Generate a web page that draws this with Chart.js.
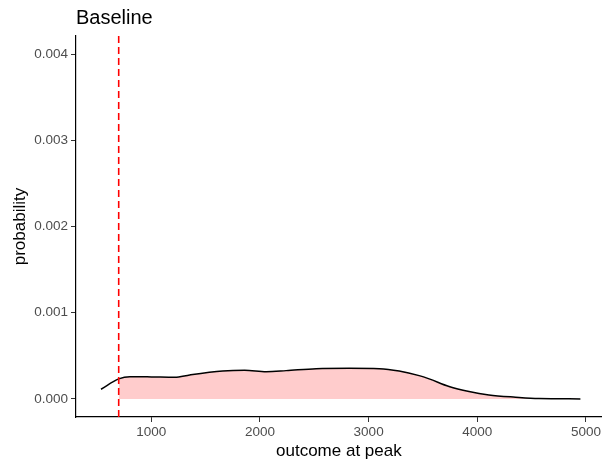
<!DOCTYPE html>
<html>
<head>
<meta charset="utf-8">
<script src="https://cdn.jsdelivr.net/npm/chart.js@4/dist/chart.umd.min.js"></script>
<style>
  html, body { margin: 0; padding: 0; background: #fff; }
  #wrap { width: 603px; height: 465px; }
</style>
</head>
<body>
<div id="wrap"><canvas id="density"></canvas></div>
<script>
// estimated density of the outcome at peak
var outcome = [537, 700, 803, 1002, 1216, 1354, 1657, 1859, 2058, 2241, 2517, 2822, 3098, 3281, 3465, 3557, 3740, 3924, 4107, 4352, 4566, 4949];
var density = [0.000112, 0.000232, 0.000258, 0.000255, 0.00025, 0.000278, 0.000324, 0.000333, 0.000316, 0.000328, 0.000351, 0.000355, 0.000351, 0.000324, 0.00027, 0.000232, 0.000143, 0.000085, 0.000046, 0.00002, 0.000004, 0];
var baseline = 700;
var xTicks = [1000, 2000, 3000, 4000, 5000];
var yTicks = [0, 0.001, 0.002, 0.003, 0.004];
var xRange = [307, 5145];
var yRange = [-0.00021, 0.00421];

var curve = outcome.map(function (x, i) { return { x: x, y: density[i] }; });
var shaded = curve.filter(function (p) { return p.x >= baseline; });

var font = 'Liberation Sans, Arial, sans-serif';
var tickFont = { family: font, size: 13.5 };

new Chart(document.getElementById('density').getContext('2d'), {
  type: 'line',
  data: {
    datasets: [{
      data: shaded,
      borderWidth: 0,
      backgroundColor: '#FFCCCC',
      fill: 'origin',
      pointRadius: 0,
      cubicInterpolationMode: 'monotone',
      order: 3
    }, {
      data: curve,
      borderColor: '#000000',
      borderWidth: 1.5,
      fill: false,
      pointRadius: 0,
      cubicInterpolationMode: 'monotone',
      order: 2
    }, {
      data: [{ x: baseline, y: yRange[0] }, { x: baseline, y: yRange[1] }],
      borderColor: '#FF0000',
      borderWidth: 1.6,
      borderDash: [7, 4],
      fill: false,
      pointRadius: 0,
      order: 1
    }]
  },
  options: {
    responsive: true,
    maintainAspectRatio: false,
    animation: false,
    layout: { padding: 0 },
    plugins: {
      legend: { display: false },
      tooltip: { enabled: false },
      title: {
        display: true,
        text: 'Baseline',
        align: 'start',
        fullSize: false,
        color: '#000',
        font: { family: font, size: 20, weight: 'normal' },
        padding: { top: 6, bottom: 6 }
      }
    },
    scales: {
      x: {
        type: 'linear',
        min: xRange[0],
        max: xRange[1],
        afterBuildTicks: function (s) { s.ticks = xTicks.map(function (v) { return { value: v }; }); },
        afterFit: function (s) { s.height = 48; },
        ticks: { color: '#4D4D4D', font: tickFont, padding: 2, maxRotation: 0, callback: function (v) { return String(v); } },
        grid: { display: true, drawOnChartArea: false, drawTicks: true, tickLength: 5, color: '#333333', lineWidth: 1 },
        border: { display: true, color: '#000', width: 1.2 },
        title: { display: true, text: 'outcome at peak', color: '#000', font: { family: font, size: 17 }, padding: { top: 0, bottom: 3 } }
      },
      y: {
        type: 'linear',
        min: yRange[0],
        max: yRange[1],
        afterBuildTicks: function (s) { s.ticks = yTicks.map(function (v) { return { value: v }; }); },
        afterFit: function (s) { s.width = 76; },
        ticks: { color: '#4D4D4D', font: tickFont, padding: 3, callback: function (v) { return v.toFixed(3); } },
        grid: { display: true, drawOnChartArea: false, drawTicks: true, tickLength: 5, color: '#333333', lineWidth: 1 },
        border: { display: true, color: '#000', width: 1.2 },
        title: { display: true, text: 'probability', color: '#000', font: { family: font, size: 17 }, padding: { top: 10, bottom: 0 } }
      }
    }
  }
});
</script>
</body>
</html>
